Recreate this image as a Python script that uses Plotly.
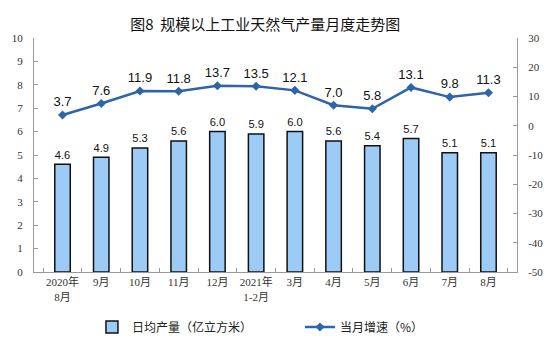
import plotly.graph_objects as go

categories = ["2020年<br>8月", "9月", "10月", "11月", "12月", "2021年<br>1-2月",
              "3月", "4月", "5月", "6月", "7月", "8月"]
output_vals = [4.6, 4.9, 5.3, 5.6, 6.0, 5.9, 6.0, 5.6, 5.4, 5.7, 5.1, 5.1]
growth_vals = [3.7, 7.6, 11.9, 11.8, 13.7, 13.5, 12.1, 7.0, 5.8, 13.1, 9.8, 11.3]
left_ticks = [0, 1, 2, 3, 4, 5, 6, 7, 8, 9, 10]
right_ticks = [-50, -40, -30, -20, -10, 0, 10, 20, 30]

fig = go.Figure()
fig.add_trace(go.Bar(
    x=categories, y=output_vals, name="日均产量（亿立方米）",
    marker=dict(color="#9CCBF6", line=dict(color="#111111", width=1.5)),
    width=0.4,
    text=[f"{v:.1f}" for v in output_vals], textposition="outside",
    textfont=dict(family="Liberation Sans, Arial", size=13, color="#111111"),
    cliponaxis=False,
))
fig.add_trace(go.Scatter(
    x=categories, y=growth_vals, name="当月增速（%）", yaxis="y2",
    mode="lines+markers+text",
    line=dict(color="#2E64A8", width=2.5),
    marker=dict(symbol="diamond", size=7, color="#2E64A8"),
    text=[f"{v:.1f}" for v in growth_vals], textposition="top center",
    textfont=dict(family="Liberation Sans, Arial", size=13, color="#111111"),
    cliponaxis=False,
))

tickfont = dict(family="Liberation Serif, Noto Sans CJK SC", size=11, color="#333333")
fig.update_layout(
    width=556, height=357,
    margin=dict(l=31, r=39, t=38, b=85),
    paper_bgcolor="white", plot_bgcolor="white",
    title=dict(text="图8  规模以上工业天然气产量月度走势图", x=0.477, xanchor="center",
               y=0.93, yanchor="middle",
               font=dict(family="Noto Sans CJK SC", size=15, color="#111111")),
    bargap=0.6,
    showlegend=True,
    legend=dict(orientation="h", x=0.12, xanchor="left", y=-0.235, yanchor="middle",
                font=dict(family="Noto Sans CJK SC", size=12, color="#222222"),
                entrywidth=163, entrywidthmode="pixels", bgcolor="rgba(0,0,0,0)"),
    xaxis=dict(showline=True, linecolor="#999999", linewidth=1, ticks="inside",
               tickson="boundaries", ticklen=4, tickcolor="#999999", tickangle=0,
               tickfont=tickfont, showgrid=False),
    yaxis=dict(range=[0, 10], tickvals=left_ticks, showline=True, linecolor="#999999",
               ticks="inside", ticklen=4, tickcolor="#999999", showgrid=False,
               zeroline=False, tickfont=tickfont, ticklabelstandoff=8),
    yaxis2=dict(range=[-50, 30], tickvals=right_ticks,
                ticktext=[str(t) for t in right_ticks],
                overlaying="y", side="right",
                showline=True, linecolor="#999999", ticks="inside", ticklen=4,
                tickcolor="#999999", showgrid=False, zeroline=False, tickfont=tickfont,
                ticklabelstandoff=8),
)

fig.write_html("out.html", config={"displayModeBar": False},
               post_script="document.body.style.margin='0';document.body.style.overflow='hidden';")
